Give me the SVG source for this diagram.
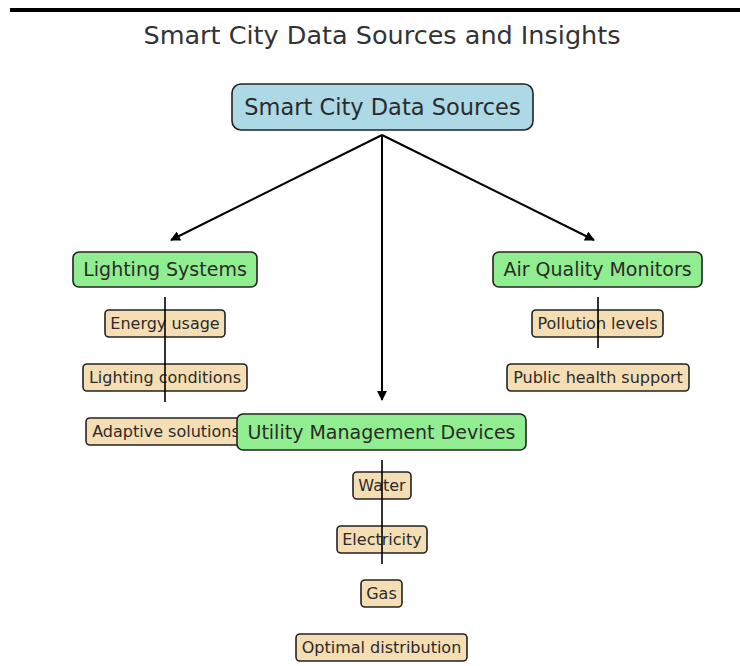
<svg xmlns="http://www.w3.org/2000/svg" width="740" height="666" viewBox="0 0 740 666">
  <style>
    text { font-family: "DejaVu Sans", "Liberation Sans", sans-serif; fill: #2b2b2b; text-anchor: middle; }
    .title { font-size: 25.5px; fill: #333; }
    .root rect { fill: #add8e6; stroke: #222; stroke-width: 1.6; }
    .mid rect { fill: #90ee90; stroke: #222; stroke-width: 1.6; }
    .leaf rect { fill: #f5deb3; stroke: #222; stroke-width: 1.6; }
    .root text { font-size: 22.5px; }
    .mid text { font-size: 19px; }
    .leaf text { font-size: 16px; }
    .edge { stroke: #000; stroke-width: 2; fill: none; }
    .stem { stroke: #000; stroke-width: 1.6; fill: none; }
  </style>
  <defs>
    <marker id="arrow" viewBox="0 0 10 10" refX="9" refY="5" markerWidth="5" markerHeight="5" orient="auto" markerUnits="strokeWidth">
      <path d="M0,0 L10,5 L0,10 Z" fill="#000"/>
    </marker>
  </defs>

  <rect x="10" y="8" width="730" height="4" fill="#000"/>
  <text class="title" x="382" y="44">Smart City Data Sources and Insights</text>

  <!-- leaf items -->
  <g id="energy-usage" class="leaf"><rect x="105" y="310" width="120" height="27" rx="4"/><text x="165" y="329">Energy usage</text></g>
  <g id="lighting-conditions" class="leaf"><rect x="83" y="364" width="164" height="27" rx="4"/><text x="165" y="383">Lighting conditions</text></g>
  <g id="adaptive-solutions" class="leaf"><rect x="86" y="418" width="160" height="27" rx="4"/><text x="166" y="437">Adaptive solutions</text></g>
  <g id="pollution-levels" class="leaf"><rect x="532" y="310" width="131" height="27" rx="4"/><text x="597.5" y="329">Pollution levels</text></g>
  <g id="public-health-support" class="leaf"><rect x="507" y="364" width="182" height="27" rx="4"/><text x="598" y="383">Public health support</text></g>
  <g id="water" class="leaf"><rect x="353" y="472" width="58" height="27" rx="4"/><text x="382" y="491">Water</text></g>
  <g id="electricity" class="leaf"><rect x="337" y="526" width="90" height="27" rx="4"/><text x="382" y="545">Electricity</text></g>
  <g id="gas" class="leaf"><rect x="361" y="580" width="41" height="27" rx="4"/><text x="381.5" y="599">Gas</text></g>
  <g id="optimal-distribution" class="leaf"><rect x="296" y="634" width="171" height="27" rx="4"/><text x="381.5" y="653">Optimal distribution</text></g>

  <!-- category nodes -->
  <g id="lighting-systems" class="mid"><rect x="73" y="252" width="184" height="35" rx="6"/><text x="165" y="276">Lighting Systems</text></g>
  <g id="air-quality-monitors" class="mid"><rect x="493" y="252" width="209" height="35" rx="6"/><text x="597.5" y="276">Air Quality Monitors</text></g>
  <g id="utility-management-devices" class="mid"><rect x="237" y="414" width="289" height="36" rx="6"/><text x="381.5" y="439">Utility Management Devices</text></g>

  <!-- root -->
  <g id="smart-city-data-sources" class="root"><rect x="232" y="84" width="301" height="46" rx="9"/><text x="382.5" y="115">Smart City Data Sources</text></g>

  <!-- connectors -->
  <g id="connectors">
    <line class="edge" x1="382" y1="135" x2="171" y2="240" marker-end="url(#arrow)"/>
    <line class="edge" x1="382" y1="135" x2="382" y2="400" marker-end="url(#arrow)"/>
    <line class="edge" x1="382" y1="135" x2="594" y2="240" marker-end="url(#arrow)"/>
    <line class="stem" x1="165" y1="297" x2="165" y2="402"/>
    <line class="stem" x1="598" y1="297" x2="598" y2="348"/>
    <line class="stem" x1="382" y1="460" x2="382" y2="564"/>
  </g>
</svg>
